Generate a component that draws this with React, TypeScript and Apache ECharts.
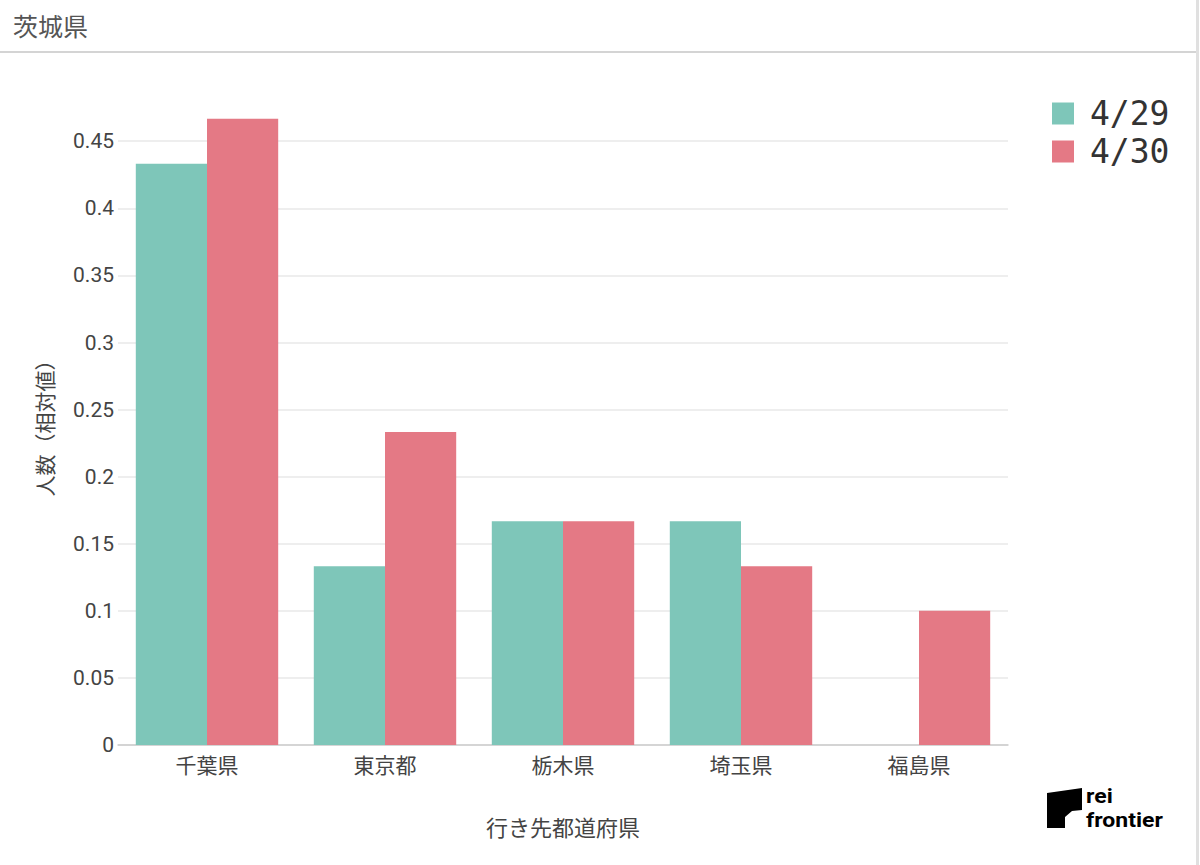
import * as echarts from "echarts";
import { useEffect, useRef } from "react";

const prefectures = ["千葉県", "東京都", "栃木県", "埼玉県", "福島県"];
const apr29 = [0.4333, 0.1333, 0.1667, 0.1667, 0];
const apr30 = [0.4667, 0.2333, 0.1667, 0.1333, 0.1];
const seriesNames = ["4/29", "4/30"];

const teal = "#7ec6b9";
const rose = "#e47985";
const labelColor = "#444";
const gridColor = "#e9e9e9";
const jpFont = "'Noto Sans CJK JP', Roboto, sans-serif";

export default function App() {
  const ref = useRef<HTMLDivElement | null>(null);

  useEffect(() => {
    document.body.style.margin = "0";
    if (!ref.current) return;
    const chart = echarts.init(ref.current, null, { renderer: "svg" });
    chart.setOption({
      animation: false,
      backgroundColor: "#fff",
      textStyle: { fontFamily: jpFont },
      grid: { left: 118, right: 192, top: 101, bottom: 120 },
      legend: {
        orient: "vertical",
        left: 1052,
        top: 97,
        padding: 0,
        itemWidth: 22,
        itemHeight: 22,
        itemGap: 5,
        icon: "rect",
        data: seriesNames,
        textStyle: {
          fontFamily: "'DejaVu Sans Mono', monospace",
          fontSize: 33,
          color: "#333",
          padding: [0, 0, 0, 11],
        },
      },
      xAxis: {
        type: "category",
        data: prefectures,
        name: "行き先都道府県",
        nameLocation: "middle",
        nameGap: 70,
        nameTextStyle: { fontSize: 22, color: labelColor, fontFamily: jpFont },
        axisTick: { show: false },
        axisLine: { lineStyle: { color: "#ccc", width: 1.5 } },
        axisLabel: { fontSize: 21, color: labelColor, margin: 8, fontFamily: jpFont },
      },
      yAxis: {
        type: "value",
        min: 0,
        max: 0.48,
        interval: 0.05,
        name: "人数（相対値）",
        nameLocation: "middle",
        nameGap: 64,
        nameTextStyle: { fontSize: 21, color: labelColor, fontFamily: jpFont },
        axisLine: { show: false },
        axisTick: { show: false },
        splitLine: { showMaxLine: false, lineStyle: { color: gridColor, width: 1.5 } },
        axisLabel: {
          fontSize: 21,
          color: labelColor,
          margin: 4,
          fontFamily: "Roboto, sans-serif",
          showMaxLabel: false,
          formatter: (v: number) => String(Math.round(v * 100) / 100),
        },
      },
      series: [
        {
          name: seriesNames[0],
          type: "bar",
          data: apr29,
          barGap: "0%",
          barCategoryGap: "20%",
          itemStyle: { color: teal },
        },
        {
          name: seriesNames[1],
          type: "bar",
          data: apr30,
          barGap: "0%",
          barCategoryGap: "20%",
          itemStyle: { color: rose },
        },
      ],
      graphic: [
        {
          type: "text",
          left: 13,
          top: 12,
          style: { text: "茨城県", fontSize: 25, fill: "#555", fontFamily: jpFont },
        },
        { type: "line", shape: { x1: 0, y1: 52, x2: 1196, y2: 52 }, style: { stroke: "#d4d4d4", lineWidth: 2 } },
        { type: "line", shape: { x1: 1197.5, y1: 0, x2: 1197.5, y2: 865 }, style: { stroke: "#e0e0e0", lineWidth: 3 } },
        {
          type: "polygon",
          shape: {
            points: [
              [1047, 793],
              [1082, 788],
              [1082, 810],
              [1072, 811],
              [1065, 817],
              [1065, 828],
              [1047, 828],
            ],
          },
          style: { fill: "#000" },
        },
        {
          type: "text",
          x: 1086,
          y: 786,
          scaleX: 1.15,
          style: { text: "rei", fontSize: 20, fontWeight: "bold", fill: "#000", fontFamily: "Roboto, sans-serif", verticalAlign: "top" },
        },
        {
          type: "text",
          x: 1086,
          y: 810,
          scaleX: 1.15,
          style: { text: "frontier", fontSize: 20, fontWeight: "bold", fill: "#000", fontFamily: "Roboto, sans-serif", verticalAlign: "top" },
        },
      ],
    });
    return () => chart.dispose();
  }, []);

  return <div ref={ref} style={{ width: 1200, height: 865 }} />;
}
